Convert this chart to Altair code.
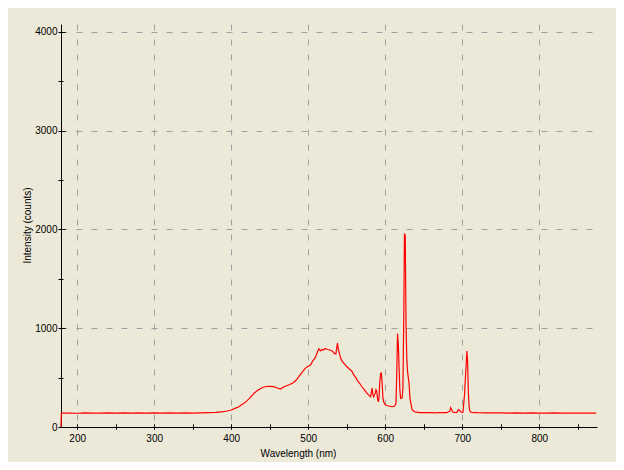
import altair as alt
import pandas as pd

wavelength = [
    179.0, 179.5, 190, 200, 210, 220, 230, 240, 250, 260, 270, 280, 290, 300, 310, 320,
    330, 340, 350, 360, 370, 380, 390, 395, 400, 405, 410, 415, 420, 425, 430, 435,
    440, 445, 450, 455, 460, 464, 468, 472, 476, 480, 484, 488, 492, 496, 500, 503,
    506, 509, 512, 514, 516, 518, 520, 522, 525, 528, 531, 534, 536, 537, 538, 539,
    540, 542, 544, 547, 550, 553, 555, 557, 559, 561, 564, 567, 570, 573, 576, 579,
    581, 582, 583, 584, 585, 587, 588, 589, 590, 591, 592, 593, 594, 595, 596, 597,
    598, 600, 603, 606, 609, 612, 614, 615, 616, 617, 618, 619, 620, 622, 623, 624,
    625, 626, 627, 628, 629, 631, 632, 633, 635, 637, 640, 645, 650, 655, 660, 665,
    670, 675, 680, 684, 685, 686, 688, 690, 693, 695, 697, 699, 701, 703, 704, 705,
    706, 707, 708, 709, 710, 712, 720, 730, 740, 750, 760, 770, 780, 790, 800, 810,
    820, 830, 840, 850, 860, 874,
]
counts = [
    0, 140, 141, 139, 142, 140, 141, 143, 140, 142, 141, 143, 140, 142, 141, 143,
    140, 142, 141, 144, 146, 149, 156, 162, 172, 189, 205, 232, 262, 300, 345, 375,
    398, 410, 412, 408, 395, 385, 405, 418, 430, 445, 470, 512, 552, 594, 615, 628,
    670, 700, 760, 790, 770, 785, 780, 795, 785, 780, 770, 745, 740, 800, 850, 790,
    760, 700, 665, 640, 612, 590, 578, 560, 530, 510, 470, 440, 405, 375, 345, 320,
    305, 350, 395, 330, 305, 340, 378, 360, 290, 255, 300, 460, 540, 545, 440, 300,
    255, 225, 215, 210, 205, 210, 240, 545, 945, 840, 600, 380, 290, 295, 400, 1050,
    1960, 1935, 1050, 700, 560, 440, 300, 250, 175, 160, 150, 146, 147, 145, 146, 144,
    147, 145, 146, 160, 195, 180, 150, 148, 146, 175, 165, 148, 150, 330, 480, 610,
    770, 665, 340, 200, 160, 148, 145, 143, 144, 142, 141, 143, 140, 142, 141, 140,
    142, 140, 141, 140, 141, 140,
]

x_major = [200, 300, 400, 500, 600, 700, 800]
x_all_ticks = [200, 250, 300, 350, 400, 450, 500, 550, 600, 650, 700, 750, 800, 850]
y_major = [0, 1000, 2000, 3000, 4000]
y_minor = [500, 1500, 2500, 3500]

x_domain = [179, 875]
y_domain = [0, 4080]

df = pd.DataFrame({"wavelength": wavelength, "counts": counts})

FONT = "Liberation Sans"
GRID = "#A0A0A0"
xs = alt.Scale(domain=x_domain, nice=False, zero=False)
ys = alt.Scale(domain=y_domain, nice=False, zero=False)

base = alt.Chart(df)

# Layer 1: data line, domain lines, grid, titles
line = base.mark_line(color="#FF0000", strokeWidth=1.2, interpolate="linear").encode(
    x=alt.X("wavelength:Q", scale=xs, axis=alt.Axis(
        orient="bottom", values=x_major, grid=True, gridColor=GRID, gridDash=[6, 9],
        gridWidth=1, domain=True, domainColor="#000000", domainWidth=1,
        ticks=False, labels=False, title="Wavelength (nm)", titleFont=FONT,
        titleFontSize=10, titleFontWeight="normal", titleColor="#000000",
        titleX=237, titleY=26, titleAlign="center", titleBaseline="middle",
        titleAnchor="start")),
    y=alt.Y("counts:Q", scale=ys, axis=alt.Axis(
        orient="left", values=y_major, grid=True, gridColor=GRID, gridDash=[6, 9],
        gridWidth=1, domain=True, domainColor="#000000", domainWidth=1,
        ticks=False, labels=False, title="Intensity (counts)", titleFont=FONT,
        titleFontSize=10, titleFontWeight="normal", titleColor="#000000",
        titleX=-34, titleY=201, titleAngle=270, titleAlign="center",
        titleBaseline="middle", titleAnchor="start")),
)

# Layer 2: major ticks crossing the axis + labels
ticks_major = base.mark_line(strokeOpacity=0).encode(
    x=alt.X("wavelength:Q", scale=xs, axis=alt.Axis(
        orient="bottom", values=x_all_ticks, offset=-3, tickSize=5, tickColor="#000000",
        domain=False, grid=False, labelFont=FONT, labelFontSize=10, labelColor="#000000",
        labelPadding=4, format="d",
        labelExpr="datum.value % 100 == 0 ? datum.label : ''",
        title=None)),
    y=alt.Y("counts:Q", scale=ys, axis=alt.Axis(
        orient="left", values=y_major, offset=-4, tickSize=7, tickColor="#000000",
        domain=False, grid=False, labelFont=FONT, labelFontSize=10, labelColor="#000000",
        labelPadding=1, format="d", title=None)),
)

# Layer 3: minor y ticks
ticks_minor = base.mark_line(strokeOpacity=0).encode(
    x=alt.X("wavelength:Q", scale=xs, axis=alt.Axis(
        orient="bottom", values=x_all_ticks, offset=-3, tickSize=5, tickColor="#000000",
        domain=False, grid=False, labels=False, title=None)),
    y=alt.Y("counts:Q", scale=ys, axis=alt.Axis(
        orient="left", values=y_minor, offset=-2, tickSize=5, tickColor="#000000",
        domain=False, grid=False, labels=False, title=None)),
)

chart = alt.layer(line, ticks_major, ticks_minor).resolve_axis(
    x="independent", y="independent"
).properties(
    width=536, height=403,
    autosize=alt.AutoSizeParams(type="none"),
    padding={"left": 53, "top": 16, "right": 19, "bottom": 35},
    background="#ECE9D8",
).configure_view(strokeOpacity=0)

chart.save("out.html", embed_options={"renderer": "svg", "actions": False})
